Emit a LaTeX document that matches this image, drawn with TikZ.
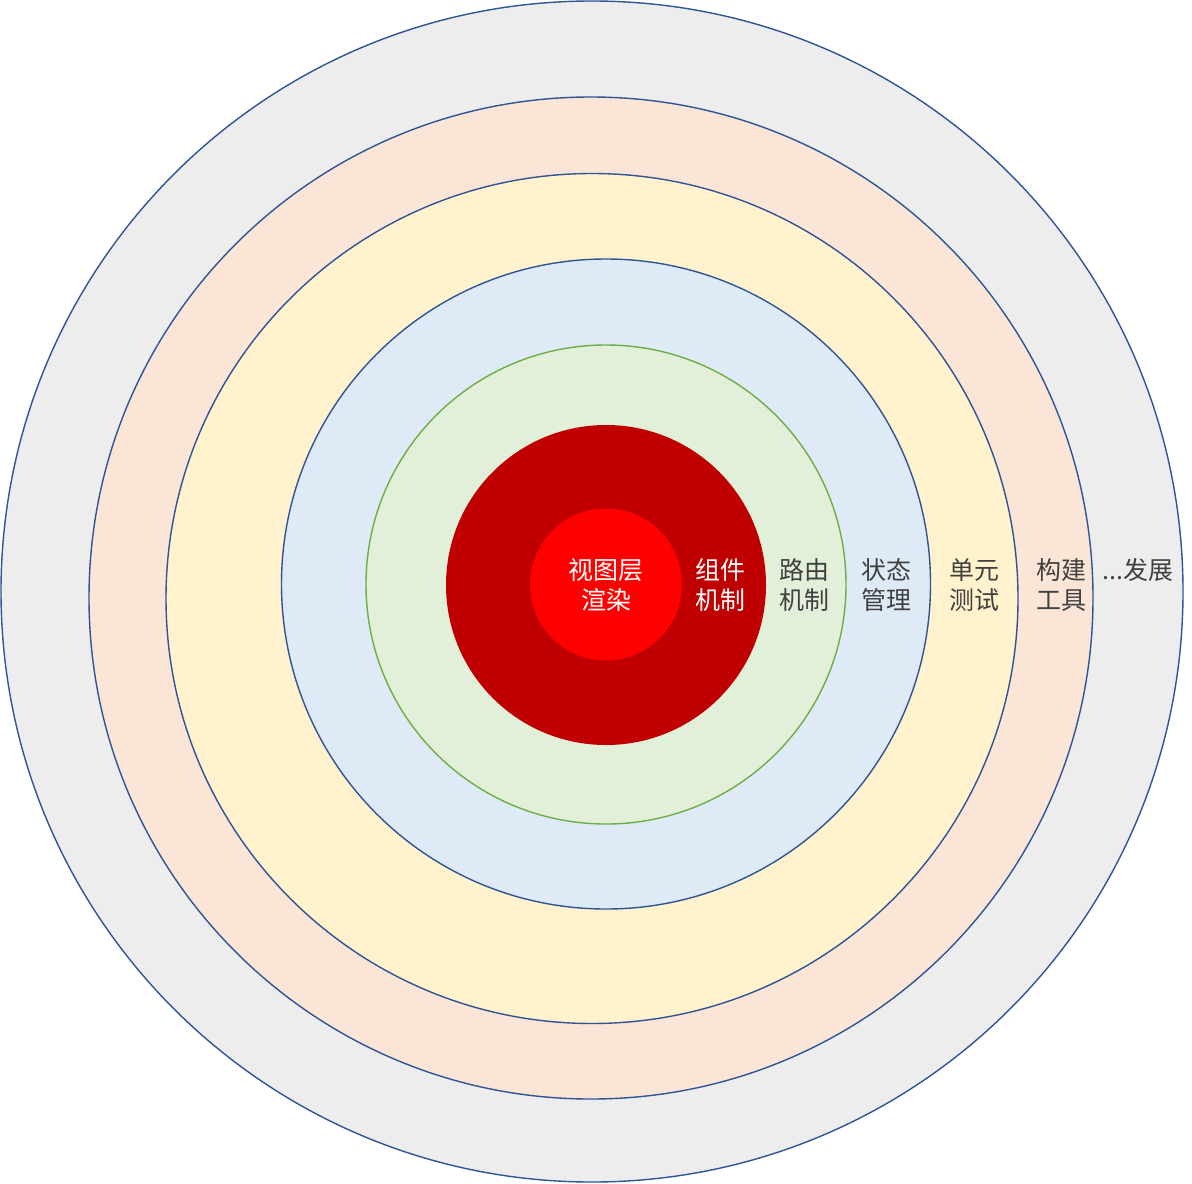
\documentclass[tikz,border=0pt]{standalone}
\usepackage{fontspec}
\newfontfamily\cjk{Noto Sans CJK SC}
\definecolor{rimblue}{HTML}{2F5597}
\definecolor{rimgreen}{HTML}{70AD47}
\definecolor{fgray}{HTML}{EDEDED}
\definecolor{fpeach}{HTML}{FBE5D6}
\definecolor{fyellow}{HTML}{FFF2CC}
\definecolor{fblue}{HTML}{DEEBF7}
\definecolor{fgreen}{HTML}{E2F0D9}
\definecolor{fdred}{HTML}{C00000}
\definecolor{fred}{HTML}{FF0000}
\definecolor{txt}{HTML}{404040}
\tikzset{
  ring/.style={line width=0.8pt},
  lbl/.style={font=\cjk\fontsize{14.2}{17.2}\selectfont, align=center, text=txt, inner sep=0pt},
  wlbl/.style={lbl, text=white}
}
\begin{document}
\begin{tikzpicture}[x=0.02cm,y=-0.02cm]
\useasboundingbox (0,0) rectangle (1192,1183);
\path[ring, draw=rimblue, fill=fgray] (592,591.5) ellipse [x radius=591, y radius=590.5];
\path[ring, draw=rimblue, fill=fpeach] (591,598) ellipse [x radius=502, y radius=501];
\path[ring, draw=rimblue, fill=fyellow] (592,598.5) ellipse [x radius=426, y radius=425];
\path[ring, draw=rimblue, fill=fblue] (606,584) ellipse [x radius=324.5, y radius=325];
\path[ring, draw=rimgreen, fill=fgreen] (606,584.5) ellipse [x radius=240, y radius=239.5];
\path[fill=fdred] (606,585) circle [radius=160];
\path[fill=fred] (606,584.5) circle [radius=76];
\node[wlbl] (view) at (606,585) {视图层\\渲染};
\node[wlbl] (comp) at (720,585) {组件\\机制};
\node[lbl] (route) at (804,585) {路由\\机制};
\node[lbl] (state) at (886,585) {状态\\管理};
\node[lbl] (unit) at (974,585) {单元\\测试};
\node[lbl] (build) at (1061,585) {构建\\工具};
\node[lbl] (dev) at (1138,570) {...发展};
\end{tikzpicture}
\end{document}
